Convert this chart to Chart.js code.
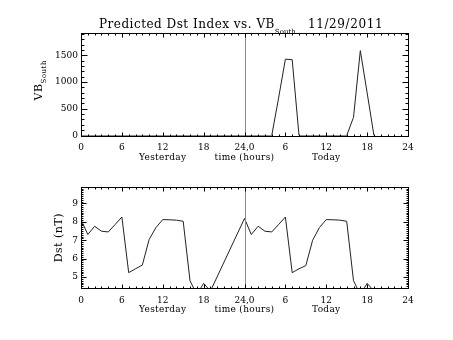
<!DOCTYPE html>
<html><head><meta charset="utf-8">
<script src="https://cdn.jsdelivr.net/npm/chart.js@4"></script>
<style>
html,body{margin:0;padding:0;background:#fff}
#wrap{position:relative;width:453px;height:340px;background:#fff}
canvas{position:absolute;left:0}
</style></head>
<body><div id="wrap">
<canvas id="c1" style="top:0" width="453" height="170"></canvas>
<canvas id="c2" style="top:170px" width="453" height="170"></canvas>
</div>
<script>
// ---- data ----
const xTickValues = [0, 6, 12, 18, 24, 30, 36, 42, 48];
const xTickLabels = ['0', '6', '12', '18', '24,0', '6', '12', '18', '24'];
const dayLabels = ['Yesterday', 'time (hours)', 'Today'];
const dayLabelHours = [12, 24, 36];

const vbTicks = [0, 500, 1000, 1500];
const vbHours = [0,1,2,3,4,5,6,7,8,9,10,11,12,13,14,15,16,17,18,19,
                 24,25,26,27,28,29,30,31,32,33,34,35,36,37,38,39,40,41,42,43];
const vbValues = [0,0,0,0,0,0,0,0,0,0,0,0,0,0,0,0,0,0,0,0,
                  0,0,0,0,0,700,1430,1420,0,0,0,0,0,0,0,0,340,1590,800,0];

const dstTicks = [5, 6, 7, 8, 9];
const dstHours = [0,1,2,3,4,5,6,7,8,9,10,11,12,13,14,15,16,17,18,19,
                  24,25,26,27,28,29,30,31,32,33,34,35,36,37,38,39,40,41,42,43];
const dstValues = [8.12,7.31,7.76,7.49,7.45,7.85,8.26,5.24,5.45,5.65,7.04,7.69,8.12,8.11,8.09,8.03,4.80,4.05,4.66,4.24,
                   8.18,7.31,7.76,7.49,7.45,7.85,8.26,5.24,5.45,5.62,7.00,7.69,8.12,8.11,8.09,8.03,4.80,4.05,4.66,4.24];

const TITLE_MAIN = 'Predicted Dst Index vs. VB';
const TITLE_SUB = 'South';
const TITLE_DATE = '11/29/2011';

// ---- helpers ----
const FONT = "'DejaVu Serif'";
function pts(xs, ys) { return xs.map((x, i) => ({x: x, y: ys[i]})); }

const framePlugin = {
  id: 'frame',
  afterDatasetsDraw(chart, args, o) {
    const ctx = chart.ctx, a = chart.chartArea;
    const xs = chart.scales.x, ys = chart.scales.y;
    ctx.save();
    // vertical divider at 24h
    const x24 = Math.round(xs.getPixelForValue(24)) + 0.5;
    ctx.strokeStyle = '#8a8a8a'; ctx.lineWidth = 1;
    ctx.beginPath(); ctx.moveTo(x24, a.top); ctx.lineTo(x24, a.bottom); ctx.stroke();
    // frame
    ctx.strokeStyle = '#000';
    const L = Math.round(a.left) + 0.5, R = Math.round(a.right) + 0.5,
          T = Math.round(a.top) + 0.5, B = Math.round(a.bottom) + 0.5;
    ctx.strokeRect(L, T, R - L, B - T);
    ctx.beginPath();
    for (let v = xs.min; v <= xs.max + 1e-9; v += o.xMinor) {
      const major = Math.abs(v / o.xMajor - Math.round(v / o.xMajor)) < 1e-6;
      const len = major ? o.xMajorLen : o.xMinorLen;
      const px = Math.round(xs.getPixelForValue(v)) + 0.5;
      ctx.moveTo(px, B); ctx.lineTo(px, B - len);
      ctx.moveTo(px, T); ctx.lineTo(px, T + len);
    }
    const start = Math.ceil(ys.min / o.yMinor - 1e-6) * o.yMinor;
    for (let k = 0; start + k * o.yMinor <= ys.max + 1e-9; k++) {
      const v = start + k * o.yMinor;
      const major = Math.abs(v / o.yMajor - Math.round(v / o.yMajor)) < 1e-6;
      const len = major ? o.yMajorLen : o.yMinorLen;
      const py = Math.round(ys.getPixelForValue(v)) + 0.5;
      ctx.moveTo(L, py); ctx.lineTo(L + len, py);
      ctx.moveTo(R, py); ctx.lineTo(R - len, py);
    }
    ctx.stroke();
    // day labels under x axis
    ctx.fillStyle = '#000';
    ctx.font = '9px ' + FONT;
    ctx.letterSpacing = '0.3px';
    ctx.textAlign = 'center'; ctx.textBaseline = 'middle';
    dayLabels.forEach((t, i) => {
      ctx.fillText(t, xs.getPixelForValue(dayLabelHours[i]), a.bottom + o.dayLabelOffset);
    });
    // y axis title (rotated, with optional subscript)
    ctx.translate(o.yTitleX, (a.top + a.bottom) / 2 + o.yTitleDy);
    ctx.rotate(-Math.PI / 2);
    ctx.textAlign = 'left'; ctx.textBaseline = 'alphabetic';
    ctx.letterSpacing = '0.5px';
    ctx.font = '11px ' + FONT;
    const w1 = ctx.measureText(o.yTitle).width;
    let w2 = 0;
    if (o.yTitleSub) { ctx.font = '7px ' + FONT; w2 = ctx.measureText(o.yTitleSub).width; }
    const x0 = -(w1 + w2) / 2;
    ctx.font = '11px ' + FONT;
    ctx.fillText(o.yTitle, x0, 4);
    if (o.yTitleSub) { ctx.font = '7px ' + FONT; ctx.fillText(o.yTitleSub, x0 + w1, 8); }
    ctx.restore();
    // main title
    if (o.title) {
      ctx.save();
      ctx.fillStyle = '#000'; ctx.textBaseline = 'alphabetic'; ctx.textAlign = 'left';
      ctx.letterSpacing = '0.5px';
      ctx.font = '12px ' + FONT;
      ctx.fillText(TITLE_MAIN, 99, 28);
      const tw = ctx.measureText(TITLE_MAIN).width;
      ctx.letterSpacing = '0px';
      ctx.font = '7px ' + FONT;
      ctx.fillText(TITLE_SUB, 99 + tw, 34);
      ctx.letterSpacing = '0.6px';
      ctx.font = '12px ' + FONT;
      ctx.fillText(TITLE_DATE, 308, 28);
      ctx.restore();
    }
  }
};

function makeChart(id, data, yMin, yMax, yTicks, extra) {
  const ctx = document.getElementById(id).getContext('2d');
  return new Chart(ctx, {
    type: 'line',
    data: { datasets: [{ data: data, borderColor: '#222', borderWidth: 1, pointRadius: 0,
                         tension: 0, fill: false, spanGaps: true }] },
    options: {
      responsive: false, animation: false, devicePixelRatio: 1,
      layout: { padding: { left: 0, right: 45, top: extra.top, bottom: 0 } },
      plugins: { legend: { display: false }, tooltip: { enabled: false }, frame: extra.frame },
      scales: {
        x: {
          type: 'linear', min: 0, max: 48,
          afterBuildTicks: s => { s.ticks = xTickValues.map(v => ({value: v})); },
          afterFit: s => { s.height = extra.xHeight; },
          grid: { display: false, drawTicks: false }, border: { display: false },
          ticks: { padding: 7, maxRotation: 0, autoSkip: false, color: '#000',
                   font: { family: FONT, size: 9 },
                   callback: (v, i) => xTickLabels[i] }
        },
        y: {
          type: 'linear', min: yMin, max: yMax,
          afterBuildTicks: s => { s.ticks = yTicks.map(v => ({value: v})); },
          afterFit: s => { s.width = 81; },
          grid: { display: false, drawTicks: false }, border: { display: false },
          ticks: { padding: 3, color: '#000', font: { family: FONT, size: 9 },
                   callback: v => String(v) }
        }
      }
    },
    plugins: [framePlugin]
  });
}

makeChart('c1', pts(vbHours, vbValues), 0, 1920, vbTicks, {
  top: 33, xHeight: 34.5,
  frame: { xMinor: 1, xMajor: 6, xMinorLen: 2, xMajorLen: 4,
           yMinor: 100, yMajor: 500, yMinorLen: 3, yMajorLen: 6,
           dayLabelOffset: 22, yTitle: 'VB', yTitleSub: 'South', yTitleX: 38, yTitleDy: -4,
           title: true }
});
makeChart('c2', pts(dstHours, dstValues), 4.39, 9.89, dstTicks, {
  top: 17, xHeight: 51.7,
  frame: { xMinor: 1, xMajor: 6, xMinorLen: 2, xMajorLen: 4,
           yMinor: 0.1, yMajor: 1, yMinorLen: 2, yMajorLen: 5,
           dayLabelOffset: 21, yTitle: 'Dst (nT)', yTitleSub: '', yTitleX: 58, yTitleDy: 0,
           title: false }
});
</script>
</body></html>
